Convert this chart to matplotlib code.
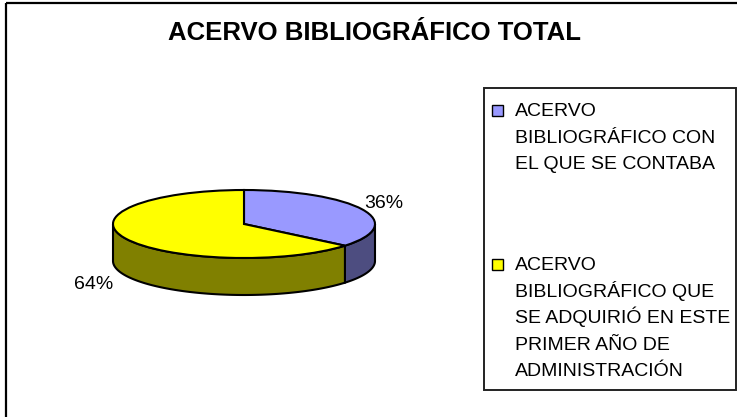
import matplotlib
matplotlib.use('Agg')
import matplotlib.pyplot as plt
from matplotlib.patches import Rectangle, Polygon
import numpy as np

plt.rcParams['font.family'] = ['Liberation Sans', 'DejaVu Sans']

# data
title = 'ACERVO BIBLIOGRÁFICO TOTAL'
labels = ['ACERVO\nBIBLIOGRÁFICO CON\nEL QUE SE CONTABA',
          'ACERVO\nBIBLIOGRÁFICO QUE\nSE ADQUIRIÓ EN ESTE\nPRIMER AÑO DE\nADMINISTRACIÓN']
values = [36, 64]
top_colors = ['#9999FF', '#FFFF00']
side_colors = ['#4D4D80', '#808000']

W, H = 737, 417
fig = plt.figure(figsize=(W / 100, H / 100), dpi=100)

# background axes in pixel coordinates (frame, title, legend)
bg = fig.add_axes([0, 0, 1, 1])
bg.set_xlim(0, W)
bg.set_ylim(H, 0)
bg.axis('off')
bg.add_patch(Rectangle((6, 3), W, H, fill=False, ec='black', lw=1.6))
bg.text(375, 40, title, ha='center', va='baseline', fontsize=18.5, weight='bold')

# legend drawn by hand, Excel style
bg.add_patch(Rectangle((484, 88), 252, 302, fill=False, ec='#222222', lw=1.4))
baselines = [116, 270]
line_h = 26.6
for lab, col, base in zip(labels, top_colors, baselines):
    bg.add_patch(Rectangle((492.5, base - 11), 10.5, 10.5, fc=col, ec='black', lw=1))
    for i, line in enumerate(lab.split('\n')):
        bg.text(515, base + i * line_h, line, fontsize=14, ha='left', va='baseline')

# pie axes: top face is the unit circle, squashed into an ellipse
cx, cy, rx, ry, depth = 244, 224, 131, 34, 37
d = depth / ry
ax = fig.add_axes([0, 0, 1, 1])
ax.patch.set_alpha(0)
wedges, _ = ax.pie(values, colors=top_colors, startangle=90, counterclock=False,
                   wedgeprops=dict(edgecolor='black', linewidth=1.5))
ax.set_aspect('auto')
ax.set_xlim(-cx / rx, (W - cx) / rx)
ax.set_ylim((cy - H) / ry, cy / ry)
ax.axis('off')

# side walls (front half only)
for w, sc in zip(wedges, side_colors):
    for k in (-360, 0, 360):
        a0 = max(w.theta1, -180 + k)
        a1 = min(w.theta2, k)
        if a1 <= a0:
            continue
        t = np.radians(np.linspace(a0, a1, 100))
        top = np.column_stack([np.cos(t), np.sin(t)])
        bot = np.column_stack([np.cos(t[::-1]), np.sin(t[::-1]) - d])
        ax.add_patch(Polygon(np.vstack([top, bot]), closed=True, fc=sc,
                             ec='black', lw=1.5, zorder=0))

# percentage labels
label_pos = [(1.18, 1.45), (1.27, 1.65)]
total = sum(values)
for w, v, (fx, fy) in zip(wedges, values, label_pos):
    mid = np.radians((w.theta1 + w.theta2) / 2)
    x = fx * np.cos(mid)
    y = fy * np.sin(mid)
    if np.sin(mid) < 0:
        y -= d
    ax.text(x, y, f'{v / total:.0%}', ha='center', va='center', fontsize=14)

fig.savefig('out.png', dpi=100)
